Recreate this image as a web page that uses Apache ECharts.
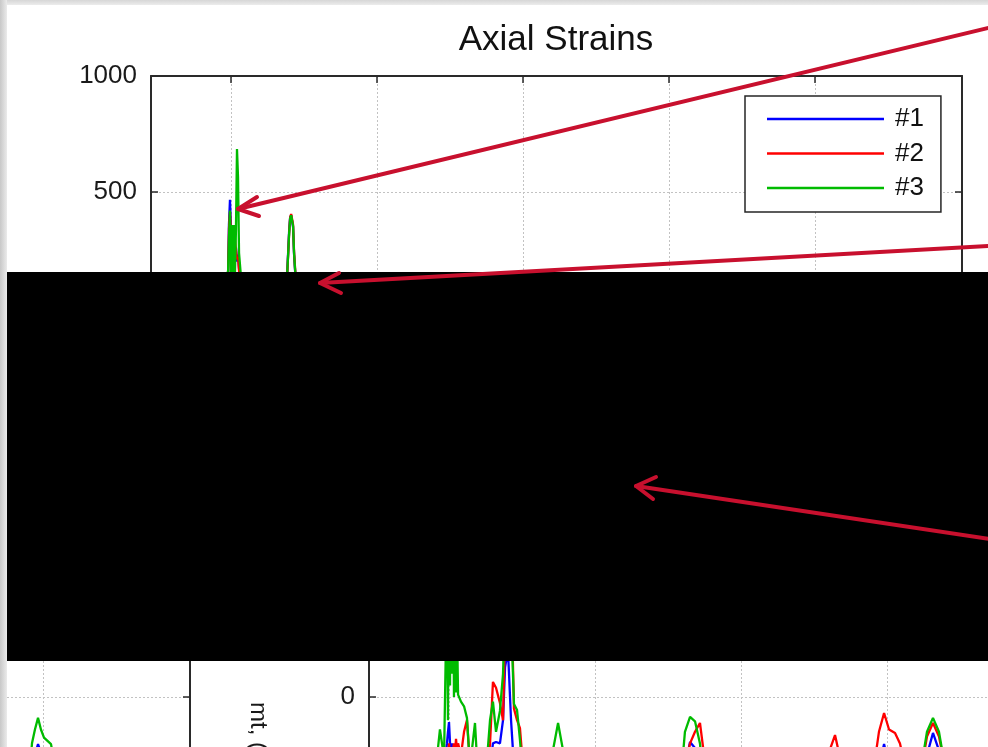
<!DOCTYPE html>
<html><head><meta charset="utf-8">
<script src="https://cdn.jsdelivr.net/npm/echarts@6/dist/echarts.min.js"></script>
<style>html,body{margin:0;padding:0;background:#fff}#c{width:988px;height:747px}</style>
</head><body><div id="c"></div><script>
// ---- text ----
const titleText = 'Axial Strains';
const seriesNames = ['#1', '#2', '#3'];
const sideLabel = 'mt, (';
// ---- axes ----
const xMin = 45.2, xMax = 600.7;
const xTicks = [100, 200, 300, 400, 500];
const yMin = -1000, yMax = 1000, yStep = 500;
// ---- top chart (Axial Strains) ----
const topX  = [50, 80, 95, 98, 98.6, 99.3, 100, 100.7, 101.4, 102, 102.7, 103.4, 104.1, 104.8, 105.5, 106.2, 107, 110, 125, 136, 138.4, 139.8, 140.5, 141.2, 141.8, 142.5, 143.2, 144.5, 146, 160, 200, 250, 300, 350, 400, 450, 500, 550, 600];
const topS1 = [40, 60, 90, 150, 360, 466, 330, 300, 250, 358, 200, 260, 200, 230, 170, 120, 90, 60, 50, 70, 140, 330, 390, 400, 395, 350, 230, 100, 60, 50, 70, 40, 60, 50, 70, 40, 60, 50, 40];
const topS2 = [35, 55, 80, 140, 340, 414, 320, 330, 300, 320, 300, 250, 210, 220, 160, 110, 80, 55, 45, 65, 130, 320, 390, 405, 410, 360, 240, 110, 60, 45, 60, 50, 55, 60, 80, 50, 65, 45, 35];
const topS3 = [45, 65, 95, 160, 300, 420, 120, 358, 100, 358, 150, 340, 685, 565, 237, 237, 120, 70, 55, 75, 135, 320, 385, 400, 405, 355, 235, 105, 65, 55, 75, 45, 65, 55, 75, 45, 65, 55, 45];
// ---- lower right chart ----
const brX  = [52.7, 91.1, 93.8, 96.6, 98.6, 99.3, 100.0, 100.7, 101.4, 102.1, 102.7, 103.4, 104.1, 104.8, 105.5, 106.2, 108.2, 110.3, 112.3, 114.4, 117.8, 119.9, 125.3, 128.1, 130.1, 132.2, 134.9, 137.0, 138.4, 140.4, 142.5, 144.5, 146.6, 148.6, 150.7, 154.1, 169.2, 171.2, 174.7, 178.1, 182.9, 203.4, 258.2, 261.6, 265.1, 268.5, 271.9, 274.7, 285.6, 354.1, 359.6, 364.4, 369.2, 381.5, 391.1, 394.5, 398.0, 401.4, 405.5, 408.9, 412.3, 419.2, 424.0, 427.4, 431.5, 435.6, 439.7, 446.6, 463.7];
const brS1 = [-400,-400,-400,-300,-200,-150,-108,-200,-250,-200, -260,-230,-260,-250,-280,-300,-300,-300,-300,-400, -400,-400,-400,-300,-200,-194,-200,-100,129,200, -100,-300,-400,-400,-400,-400,-400,-400,-400,-400, -400,-400,-400,-300,-194,-220,-300,-400,-400,-400, -400,-400,-400,-400,-400,-300,-203,-300,-400,-400, -400,-400,-350,-250,-155,-230,-350,-400,-400];
const brS2 = [-400,-400,-400,-400,-300,-250,-200,-260,-220,-250, -230,-200,-240,-180,-230,-200,-250,-150,-99,-300, -400,-400,-400,-200,65,40,-26,-100,300,200, 500,-50,-100,-134,-300,-400,-400,-400,-400,-400, -400,-400,-400,-300,-200,-150,-112,-250,-400,-400, -250,-164,-300,-400,-300,-150,-69,-140,-155,-200, -300,-400,-300,-170,-112,-170,-300,-400,-400];
const brS3 = [-400,-300,-140,-260,500,-100,800,50,900,100, 700,0,600,20,300,10,-20,-40,-90,-300, -112,-350,-330,-99,-20,-150,-60,100,400,700, 350,-30,-56,-185,-350,-400,-400,-230,-112,-230, -400,-400,-400,-150,-86,-105,-200,-400,-400,-400, -400,-400,-400,-400,-400,-400,-400,-400,-400,-400, -400,-400,-280,-150,-90,-150,-300,-400,-400];
// ---- lower left chart ----
const blX  = [460, 487.0, 491.1, 492.5, 494.5, 496.6, 498.6, 500.7, 505.5, 508.2, 511, 550, 600];
const blS1 = [-400, -400, -400, -300, -250, -203, -240, -300, -400, -400, -400, -400, -400];
const blS2 = [-400, -400, -400, -400, -350, -300, -320, -350, -400, -400, -400, -400, -400];
const blS3 = [-400, -400, -300, -198, -140, -90, -140, -175, -203, -300, -400, -400, -400];

const colors = ['#0000ff', '#ff0000', '#00bb00'];
const FONT = '"Liberation Sans", Arial, Helvetica, sans-serif';
const axisColor = '#2a2a2a';
const gridLine = { show: true, lineStyle: { color: '#c2c2c2', type: [2, 2], width: 1 } };

const grids = [
  { left: 151, top: 76, width: 811, height: 464, outerBoundsMode: 'none' },
  { left: 369, top: 465, width: 811, height: 464, outerBoundsMode: 'none' },
  { left: -621, top: 465, width: 811, height: 464, outerBoundsMode: 'none' }
];

const xAxes = [], yAxes = [];
grids.forEach((g, gi) => {
  ['bottom', 'top'].forEach(pos => xAxes.push({
    type: 'value', gridIndex: gi, position: pos, min: xMin, max: xMax,
    axisLine: { show: true, onZero: false, lineStyle: { color: axisColor, width: 2 } },
    axisTick: { show: true, inside: true, length: 7, customValues: xTicks, lineStyle: { color: axisColor, width: 1.5 } },
    axisLabel: { show: false, customValues: xTicks },
    splitLine: pos === 'bottom' ? gridLine : { show: false }
  }));
  ['left', 'right'].forEach(pos => yAxes.push({
    type: 'value', gridIndex: gi, position: pos, min: yMin, max: yMax, interval: yStep,
    axisLine: { show: true, onZero: false, lineStyle: { color: axisColor, width: 2 } },
    axisTick: { show: true, inside: true, length: 7, lineStyle: { color: axisColor, width: 1.5 } },
    axisLabel: { show: pos === 'left', fontSize: 26, color: '#1a1a1a', fontFamily: FONT, margin: 14,
      formatter: v => String(v) },
    splitLine: pos === 'left' ? gridLine : { show: false }
  }));
});

const pair = (xs, ys) => xs.map((x, i) => [x, ys[i]]);
const sets = [
  [topX, [topS1, topS2, topS3]],
  [brX, [brS1, brS2, brS3]],
  [blX, [blS1, blS2, blS3]]
];
const series = [];
sets.forEach(([xs, yss], gi) => {
  yss.forEach((ys, si) => series.push({
    type: 'line', name: seriesNames[si], xAxisIndex: gi * 2, yAxisIndex: gi * 2,
    data: pair(xs, ys), showSymbol: false, symbol: 'none',
    lineStyle: { color: colors[si], width: 2.3 }, itemStyle: { color: colors[si] },
    clip: true, z: 2 + si
  }));
});

const arrowStyle = { stroke: '#c8102e', lineWidth: 4, lineCap: 'round', lineJoin: 'round', fill: null };
const arrows = [
  { tail: [990, 27.5], tip: [238, 209], w1: [257, 197], w2: [259, 216] },
  { tail: [990, 246], tip: [320, 283], w1: [339, 273], w2: [341, 293] },
  { tail: [990, 539], tip: [636, 486], w1: [656, 477], w2: [653, 499] }
];
const graphic = [
  { type: 'rect', z: 100, shape: { x: 7, y: 272, width: 981, height: 389 }, style: { fill: '#000' } },
  { type: 'rect', z: 105, shape: { x: 0, y: 0, width: 988, height: 5 },
    style: { fill: new echarts.graphic.LinearGradient(0, 0, 0, 1, [{ offset: 0, color: '#d6d6d6' }, { offset: 1, color: '#ececec' }]) } },
  { type: 'rect', z: 105, shape: { x: 0, y: 0, width: 7, height: 747 },
    style: { fill: new echarts.graphic.LinearGradient(0, 0, 1, 0, [{ offset: 0, color: '#c8c8c8' }, { offset: 1, color: '#ebebeb' }]) } },
  { type: 'text', z: 50, x: 258, y: 702, rotation: -Math.PI / 2,
    style: { text: sideLabel, fontSize: 24, fontFamily: FONT, fill: '#1a1a1a', align: 'left', verticalAlign: 'middle' } }
];
arrows.forEach(a => {
  graphic.push({ type: 'polyline', z: 110, shape: { points: [a.tail, a.tip] }, style: arrowStyle });
  graphic.push({ type: 'polyline', z: 110, shape: { points: [a.w1, a.tip, a.w2] }, style: arrowStyle });
});

const chart = echarts.init(document.getElementById('c'), null, { renderer: 'canvas' });
chart.setOption({
  animation: false,
  backgroundColor: '#fff',
  title: { text: titleText, left: 556, top: 23, textAlign: 'center', padding: 0,
    textStyle: { fontSize: 35, fontWeight: 'normal', color: '#111', fontFamily: FONT } },
  legend: {
    data: seriesNames, orient: 'vertical', left: 745, top: 96, padding: [10, 17, 11, 22],
    itemGap: 8.5, itemWidth: 117, itemHeight: 2.5, icon: 'rect', selectedMode: false,
    backgroundColor: '#fff', borderColor: '#262626', borderWidth: 1.5, borderRadius: 0, z: 20,
    textStyle: { fontSize: 26, lineHeight: 26, color: '#111', fontFamily: FONT, padding: [0, 0, 0, 6] }
  },
  grid: grids,
  xAxis: xAxes,
  yAxis: yAxes,
  series: series,
  graphic: graphic
});
</script></body></html>
